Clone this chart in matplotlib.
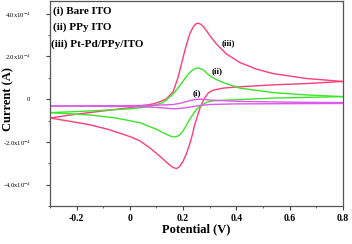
import matplotlib
matplotlib.use('Agg')
import matplotlib.pyplot as plt
from matplotlib.ticker import MultipleLocator

plt.rcParams['font.family'] = ['Liberation Serif', 'DejaVu Serif']
plt.rcParams['mathtext.fontset'] = 'stix'

# (iii) Pt-Pd/PPy/ITO : anodic sweep then cathodic sweep, current in 1e-4 A
pt_fwd_v = [-0.3, -0.2, -0.1, 0.0, 0.05, 0.0875, 0.1125, 0.1375, 0.1625, 0.181, 0.2, 0.2125, 0.225,
            0.2375, 0.248, 0.256, 0.265, 0.276, 0.288, 0.305, 0.325, 0.3625, 0.4125, 0.475, 0.5375,
            0.6625, 0.8]
pt_fwd_i = [-0.88, -0.7, -0.55, -0.4, -0.3, -0.22, -0.12, 0.02, 0.35, 1.02, 1.96, 2.55, 3.06,
            3.38, 3.53, 3.56, 3.52, 3.4, 3.2, 2.9, 2.59, 2.12, 1.72, 1.41, 1.2,
            0.97, 0.83]
pt_rev_v = [0.8, 0.6625, 0.5375, 0.4125, 0.35, 0.3125, 0.295, 0.2875, 0.278, 0.269, 0.2625, 0.255,
            0.244, 0.235, 0.225, 0.2125, 0.2, 0.1875, 0.175, 0.1625, 0.15, 0.1125, 0.075, 0.0375,
            0.0, -0.0825, -0.1575, -0.2325, -0.3]
pt_rev_i = [0.83, 0.73, 0.67, 0.58, 0.52, 0.42, 0.3, 0.16, -0.02, -0.24, -0.45, -0.75,
            -1.18, -1.65, -2.1, -2.55, -2.9, -3.15, -3.25, -3.2, -3.09, -2.67, -2.28, -1.95,
            -1.75, -1.41, -1.18, -1.02, -0.88]

# (ii) PPy ITO
ppy_fwd_v = [-0.3, -0.2, -0.1, 0.0, 0.075, 0.125, 0.1625, 0.1875, 0.21, 0.225, 0.24, 0.25, 0.259,
             0.275, 0.3, 0.325, 0.35, 0.4125, 0.5375, 0.6625, 0.8]
ppy_fwd_i = [-0.63, -0.58, -0.52, -0.45, -0.35, -0.16, 0.24, 0.63, 1.02, 1.25, 1.4, 1.45, 1.46,
             1.38, 1.1, 0.92, 0.78, 0.52, 0.31, 0.2, 0.12]
ppy_rev_v = [0.8, 0.5375, 0.35, 0.3125, 0.29, 0.275, 0.25, 0.225, 0.2, 0.185, 0.169, 0.155, 0.1375,
             0.1, 0.0375, -0.057, -0.15, -0.3]
ppy_rev_i = [0.12, 0.05, -0.05, -0.08, -0.14, -0.24, -0.47, -0.94, -1.49, -1.7, -1.77, -1.74, -1.65,
             -1.41, -1.1, -0.87, -0.74, -0.63]

# (i) Bare ITO
ito_fwd_v = [-0.3, 0.0, 0.1, 0.1625, 0.19, 0.2125, 0.235, 0.256, 0.28, 0.3, 0.4, 0.6, 0.8]
ito_fwd_i = [-0.32, -0.3, -0.28, -0.25, -0.19, -0.11, -0.04, 0.0, -0.01, -0.04, -0.1, -0.14, -0.16]
ito_rev_v = [0.8, 0.4, 0.3, 0.25, 0.22, 0.2, 0.17, 0.14, 0.12, 0.05, -0.3]
ito_rev_i = [-0.2, -0.22, -0.25, -0.32, -0.38, -0.42, -0.45, -0.43, -0.4, -0.35, -0.32]

yticks = [-4e-4, -2e-4, 0, 2e-4, 4e-4]
ylabels = [r'-4.0x10$^{-4}$', r'-2.0x10$^{-4}$', '0', r'2.0x10$^{-4}$', r'4.0x10$^{-4}$']
xticks = [-0.2, 0, 0.2, 0.4, 0.6, 0.8]
xlabels = ['-0.2', '0', '0.2', '0.4', '0.6', '0.8']

red = '#ff3d78'
green = '#3ae62a'
mag = '#dd5ae8'

fig = plt.figure(figsize=(3.52, 2.44), dpi=100)
ax = fig.add_axes([0.142, 0.156, 0.832, 0.84])

sc = 1e-4
ax.plot(pt_fwd_v, [v * sc for v in pt_fwd_i], color=red, lw=1.0)
ax.plot(pt_rev_v, [v * sc for v in pt_rev_i], color=red, lw=1.0)
ax.plot(ppy_fwd_v, [v * sc for v in ppy_fwd_i], color=green, lw=1.0)
ax.plot(ppy_rev_v, [v * sc for v in ppy_rev_i], color=green, lw=1.0)
ax.plot(ito_fwd_v, [v * sc for v in ito_fwd_i], color=mag, lw=1.0)
ax.plot(ito_rev_v, [v * sc for v in ito_rev_i], color=mag, lw=1.0)

ax.set_xlim(-0.3, 0.8)
ax.set_ylim(-5e-4, 4.6e-4)
ax.set_xticks(xticks)
ax.set_xticklabels(xlabels, fontsize=7, fontweight='bold')
ax.set_yticks(yticks)
ax.set_yticklabels(ylabels, fontsize=4.8)
ax.xaxis.set_minor_locator(MultipleLocator(0.1))
ax.yaxis.set_minor_locator(MultipleLocator(1e-4))
ax.tick_params(which='major', length=3, width=0.8, colors='#444444')
ax.tick_params(which='minor', length=1.5, width=0.6, colors='#444444')
ax.tick_params(axis='x', pad=3)
ax.tick_params(axis='y', pad=11)
ax.tick_params(labelcolor='black')
for s in ax.spines.values():
    s.set_color('#555555')
    s.set_linewidth(0.9)

ax.set_xlabel('Potential (V)', fontsize=9, fontweight='bold')
ax.set_ylabel('Current (A)', fontsize=9, fontweight='bold', va='center')
ax.xaxis.set_label_coords(0.5, -0.085)
ax.yaxis.set_label_coords(-0.143, 0.52)

ax.text(0.012, 0.951, '(i) Bare ITO', transform=ax.transAxes, fontsize=8, fontweight='bold', va='center')
ax.text(0.012, 0.873, '(ii) PPy ITO', transform=ax.transAxes, fontsize=8, fontweight='bold', va='center')
ax.text(0.005, 0.79, '(iii) Pt-Pd/PPy/ITO', transform=ax.transAxes, fontsize=8, fontweight='bold', va='center')
ax.text(0.371, 2.6e-4, '(iii)', fontsize=6.5, fontweight='bold', ha='center', va='center')
ax.text(0.329, 1.33e-4, '(ii)', fontsize=6.5, fontweight='bold', ha='center', va='center')
ax.text(0.251, 0.3e-4, '(i)', fontsize=6.5, fontweight='bold', ha='center', va='center')

fig.savefig('out.png', dpi=100)
